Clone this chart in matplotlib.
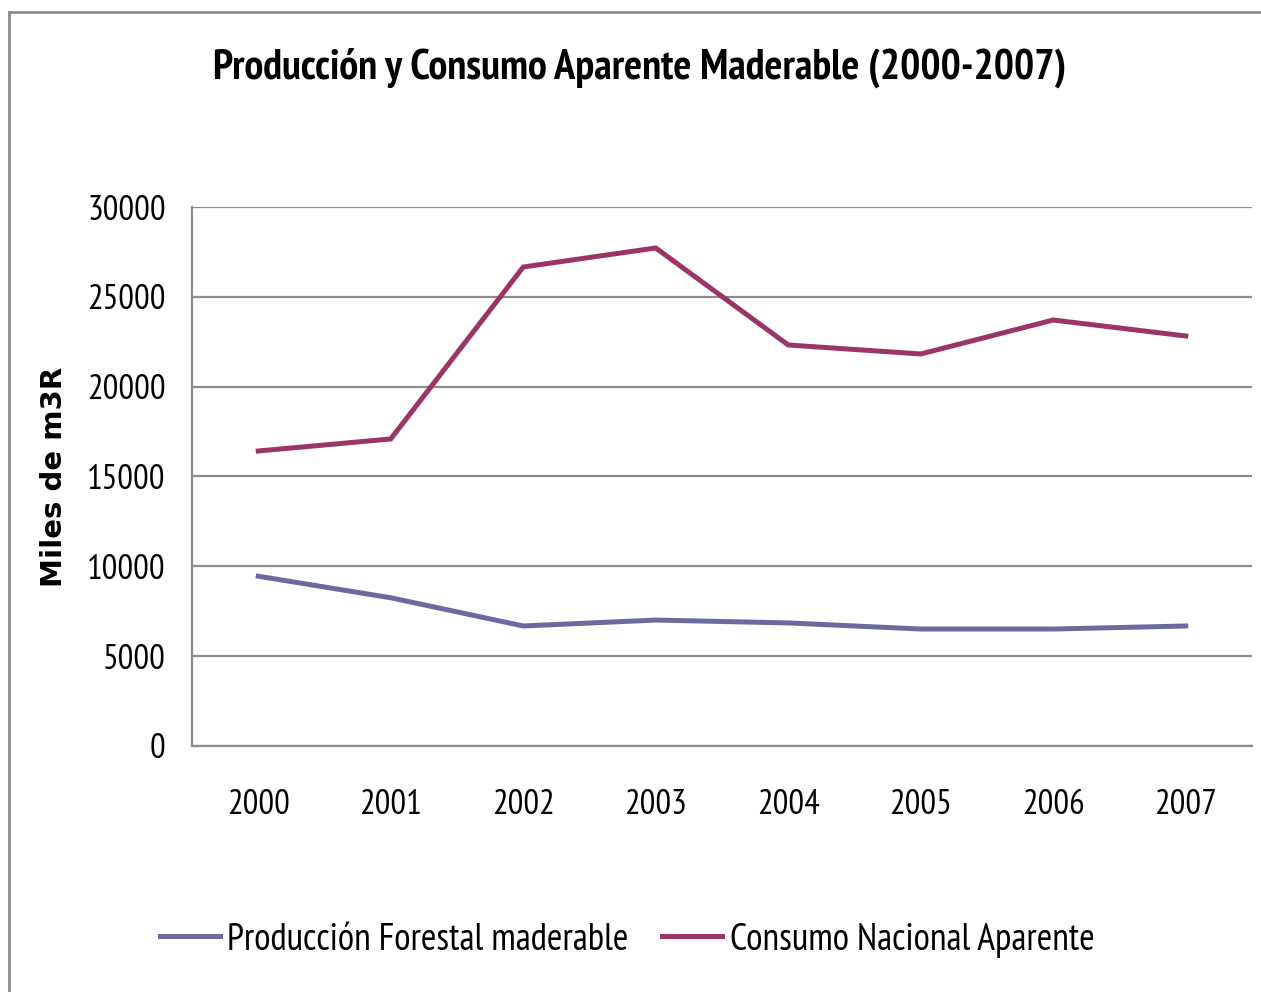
import matplotlib
matplotlib.use("Agg")
import matplotlib.pyplot as plt
from matplotlib.lines import Line2D

# data
years = ["2000", "2001", "2002", "2003", "2004", "2005", "2006", "2007"]
produccion = [9450, 8250, 6680, 7010, 6850, 6510, 6510, 6680]
consumo = [16420, 17090, 26660, 27720, 22320, 21820, 23710, 22820]
y_ticks = [0, 5000, 10000, 15000, 20000, 25000, 30000]

NARROW = ["PT Sans Narrow", "DejaVu Sans"]
GRID = "#8c8c8c"

fig = plt.figure(figsize=(12.61, 9.92), dpi=100)
ax = fig.add_axes([192 / 1261, 1 - 746 / 992, (1252 - 192) / 1261, (746 - 207) / 992])

x = range(len(years))
ax.plot(x, produccion, color="#6a6a9f", lw=3.6, label="Producción Forestal maderable",
        solid_joinstyle="miter")
ax.plot(x, consumo, color="#9b3467", lw=3.6, label="Consumo Nacional Aparente",
        solid_joinstyle="miter")

ax.set_xlim(-0.5, len(years) - 0.5)
ax.set_ylim(0, 30000)
ax.set_yticks(y_ticks)
ax.set_yticklabels([str(v) for v in y_ticks], family=NARROW, fontsize=25)
ax.set_xticks(list(x))
ax.set_xticklabels(years, family=NARROW, fontsize=25)
ax.tick_params(axis="y", length=0, pad=19)
ax.tick_params(axis="x", length=0, pad=31)
ax.grid(axis="y", color=GRID, lw=1.6)
ax.set_axisbelow(True)
for side in ("top", "right"):
    ax.spines[side].set_visible(False)
for side in ("left", "bottom"):
    ax.spines[side].set_color(GRID)
    ax.spines[side].set_linewidth(1.6)

ax.set_ylabel("Miles de m3R", family="DejaVu Sans", fontweight="bold", fontsize=21,
              labelpad=0)
ax.yaxis.set_label_coords(-124 / 1060, 0.5)

fig.text(640 / 1261, 1 - 68 / 992, "Producción y Consumo Aparente Maderable (2000-2007)",
         family=NARROW, fontweight="bold", fontsize=30.5, ha="center", va="center")

fig.legend(loc="center", bbox_to_anchor=(627 / 1261, 1 - 940 / 992), ncol=2,
           frameon=False, prop={"family": NARROW, "size": 27}, handlelength=1.6,
           handletextpad=0.2, columnspacing=0.9)

# outer chart border (only top and left visible in the reference)
fig.add_artist(Line2D([9 / 1261, 9 / 1261], [-0.01, 1 - 12 / 992], color=GRID, lw=2,
                      transform=fig.transFigure))
fig.add_artist(Line2D([9 / 1261, 1.01], [1 - 12 / 992, 1 - 12 / 992], color=GRID, lw=2,
                      transform=fig.transFigure))

fig.savefig("out.png", dpi=100)
